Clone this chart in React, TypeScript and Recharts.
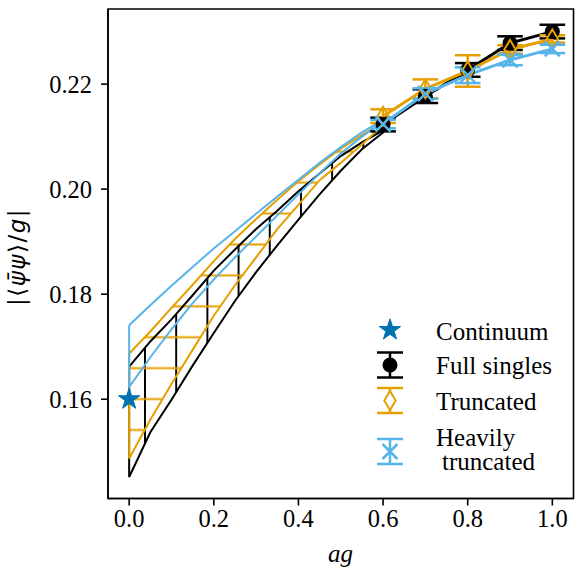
import React from 'react';
import { ComposedChart, Line, Area, XAxis, YAxis, ErrorBar, ReferenceArea } from 'recharts';

// ---- data ----
const bandX = [0, 0.05, 0.1, 0.15, 0.2, 0.25, 0.3, 0.35, 0.4, 0.45, 0.5, 0.55, 0.6];
const fullUpper = [0.1662, 0.1710, 0.1752, 0.1798, 0.1845, 0.1885, 0.1924, 0.1959, 0.1996, 0.2030, 0.2063, 0.2089, 0.2112];
const fullLower = [0.1452, 0.1537, 0.1599, 0.1664, 0.1726, 0.1787, 0.1842, 0.1893, 0.1942, 0.1990, 0.2035, 0.2076, 0.2108];
const truncUpper = [0.1687, 0.1729, 0.1774, 0.1818, 0.1863, 0.1905, 0.1943, 0.1980, 0.2015, 0.2047, 0.2077, 0.2103, 0.2127];
const truncLower = [0.1487, 0.1561, 0.1629, 0.1694, 0.1759, 0.1817, 0.1870, 0.1924, 0.1970, 0.2017, 0.2050, 0.2085, 0.2122];
const heavyUpper = [0.1741, 0.1779, 0.1816, 0.1852, 0.1887, 0.1920, 0.1953, 0.1986, 0.2018, 0.2050, 0.2080, 0.2108, 0.2132];
const heavyLower = [0.1623, 0.1680, 0.1733, 0.1783, 0.1828, 0.1870, 0.1910, 0.1950, 0.1990, 0.2030, 0.2068, 0.2100, 0.2128];

const pointX = [0.6, 0.7, 0.8, 0.9, 1.0];
const fullY = [0.2123, 0.2177, 0.2227, 0.2278, 0.2300];
const fullErr = [0.0013, 0.0013, 0.0013, 0.0013, 0.0013];
const truncY = [0.2139, 0.2191, 0.2225, 0.2266, 0.2286];
const truncErr = [0.0013, 0.0018, 0.0030, 0.0008, 0.0007];
const heavyY = [0.2124, 0.2182, 0.2217, 0.2246, 0.2267];
const heavyErr = [0.0008, 0.0010, 0.0015, 0.0010, 0.0008];

const continuumX = [0];
const continuumY = [0.16];

const xTicks = [0, 0.2, 0.4, 0.6, 0.8, 1.0];
const yTicks = [0.16, 0.18, 0.2, 0.22];
const xDomain = [-0.05, 1.05];
const yDomain = [0.1411, 0.2343];

const C_BLACK = '#000000';
const C_ORANGE = '#E69F00';
const C_SKY = '#56B4E9';
const C_BLUE = '#0072B2';
const SERIF = '"Liberation Serif", "Times New Roman", serif';

// ---- helpers ----
const bandRows = (upper: number[], lower: number[]) =>
  bandX.map((x, i) => ({ x, range: [lower[i], upper[i]] }));
const outlineRows = (upper: number[], lower: number[]) => {
  const rows = bandX.map((x, i) => ({ x, y: upper[i] }));
  for (let i = bandX.length - 1; i >= 0; i--) rows.push({ x: bandX[i], y: lower[i] });
  rows.push({ x: bandX[0], y: upper[0] });
  return rows;
};
const pointRows = (ys: number[], errs: number[]) => pointX.map((x, i) => ({ x, y: ys[i], err: errs[i] }));
const contRows = continuumX.map((x, i) => ({ x, y: continuumY[i] }));

const starPath = (cx: number, cy: number, R: number) => {
  const r = R * 0.382;
  let d = '';
  for (let k = 0; k < 10; k++) {
    const a = (-90 + k * 36) * Math.PI / 180;
    const rad = k % 2 === 0 ? R : r;
    d += (k === 0 ? 'M' : 'L') + (cx + rad * Math.cos(a)).toFixed(2) + ',' + (cy + rad * Math.sin(a)).toFixed(2);
  }
  return d + 'Z';
};

const CircleDot = (p: any) => (p.cx == null ? null : <circle key={`c${p.index}`} cx={p.cx} cy={p.cy} r={7.5} fill={C_BLACK} />);
const DiamondDot = (p: any) =>
  p.cx == null ? null : (
    <path key={`d${p.index}`} d={`M${p.cx},${p.cy - 9.5}L${p.cx + 5.7},${p.cy}L${p.cx},${p.cy + 9.5}L${p.cx - 5.7},${p.cy}Z`} fill="none" stroke={C_ORANGE} strokeWidth={2} />
  );
const XDot = (p: any) =>
  p.cx == null ? null : (
    <path key={`x${p.index}`} d={`M${p.cx - 7.5},${p.cy - 7.5}L${p.cx + 7.5},${p.cy + 7.5}M${p.cx - 7.5},${p.cy + 7.5}L${p.cx + 7.5},${p.cy - 7.5}`} stroke={C_SKY} strokeWidth={2.5} fill="none" />
  );
const StarDot = (p: any) => (p.cx == null ? null : <path key={`s${p.index}`} d={starPath(p.cx, p.cy, 11.2)} fill={C_BLUE} stroke={C_BLUE} strokeWidth={1} />);

const tickStyle = { fontFamily: SERIF, fontSize: 24.5, fill: '#000' };

const ErrLegend = ({ cy, color, children }: any) => (
  <g>
    <line x1={390} y1={cy - 12.5} x2={390} y2={cy + 12.5} stroke={color} strokeWidth={2.5} />
    <line x1={377} y1={cy - 12.5} x2={403} y2={cy - 12.5} stroke={color} strokeWidth={2.5} />
    <line x1={377} y1={cy + 12.5} x2={403} y2={cy + 12.5} stroke={color} strokeWidth={2.5} />
    {children}
  </g>
);

export default function App() {
  return (
    <div style={{ position: 'absolute', left: 0, top: 0, width: 577, height: 577, background: '#fff' }}>
      <ComposedChart width={577} height={577} margin={{ top: 9, right: 3.5, bottom: 0, left: 0 }}>
        <defs>
          <pattern id="hatchV" patternUnits="userSpaceOnUse" x={145 - 15.6} y={0} width={31.19} height={10}>
            <line x1={15.6} y1={-2} x2={15.6} y2={12} stroke={C_BLACK} strokeWidth={2} />
          </pattern>
          <pattern id="hatchH" patternUnits="userSpaceOnUse" x={0} y={430 - 15.46} width={10} height={30.92}>
            <line x1={-2} y1={15.46} x2={12} y2={15.46} stroke={C_ORANGE} strokeWidth={2} />
          </pattern>
        </defs>
        <XAxis
          dataKey="x"
          type="number"
          domain={xDomain}
          allowDataOverflow
          ticks={xTicks}
          tickFormatter={(v: number) => v.toFixed(1)}
          height={78.5}
          tickSize={7}
          tickMargin={4}
          tick={tickStyle}
          axisLine={{ stroke: '#000', strokeWidth: 1.6 }}
          tickLine={{ stroke: '#000', strokeWidth: 1.6 }}
        />
        <YAxis
          type="number"
          domain={yDomain}
          allowDataOverflow
          ticks={yTicks}
          tickFormatter={(v: number) => v.toFixed(2)}
          width={108}
          tickSize={7}
          tickMargin={9}
          tick={tickStyle}
          axisLine={{ stroke: '#000', strokeWidth: 1.6 }}
          tickLine={{ stroke: '#000', strokeWidth: 1.6 }}
        />
        <ReferenceArea x1={xDomain[0]} x2={xDomain[1]} y1={yDomain[0]} y2={yDomain[1]} fill="none" stroke="#000" strokeWidth={1.6} fillOpacity={0} ifOverflow="visible" />

        <Area data={bandRows(fullUpper, fullLower)} dataKey="range" type="linear" stroke="none" fill="url(#hatchV)" fillOpacity={1} isAnimationActive={false} activeDot={false} />
        <Line data={outlineRows(fullUpper, fullLower)} dataKey="y" type="linear" stroke={C_BLACK} strokeWidth={2} dot={false} activeDot={false} isAnimationActive={false} />

        <Area data={bandRows(truncUpper, truncLower)} dataKey="range" type="linear" stroke="none" fill="url(#hatchH)" fillOpacity={1} isAnimationActive={false} activeDot={false} />
        <Line data={outlineRows(truncUpper, truncLower)} dataKey="y" type="linear" stroke={C_ORANGE} strokeWidth={2} dot={false} activeDot={false} isAnimationActive={false} />

        <Line data={outlineRows(heavyUpper, heavyLower)} dataKey="y" type="linear" stroke={C_SKY} strokeWidth={2} dot={false} activeDot={false} isAnimationActive={false} />

        <Line data={pointRows(fullY, fullErr)} dataKey="y" type="linear" stroke={C_BLACK} strokeWidth={3} dot={CircleDot} activeDot={false} isAnimationActive={false}>
          <ErrorBar dataKey="err" direction="y" width={12.8} stroke={C_BLACK} strokeWidth={2.5} />
        </Line>
        <Line data={pointRows(truncY, truncErr)} dataKey="y" type="linear" stroke={C_ORANGE} strokeWidth={3} dot={DiamondDot} activeDot={false} isAnimationActive={false}>
          <ErrorBar dataKey="err" direction="y" width={12.8} stroke={C_ORANGE} strokeWidth={2.5} />
        </Line>
        <Line data={pointRows(heavyY, heavyErr)} dataKey="y" type="linear" stroke={C_SKY} strokeWidth={3} dot={XDot} activeDot={false} isAnimationActive={false}>
          <ErrorBar dataKey="err" direction="y" width={12.8} stroke={C_SKY} strokeWidth={2.5} />
        </Line>

        <Line data={contRows} dataKey="y" type="linear" stroke="none" dot={StarDot} activeDot={false} isAnimationActive={false} />
      </ComposedChart>

      <svg width={577} height={577} style={{ position: 'absolute', left: 0, top: 0, pointerEvents: 'none' }}>
        {/* legend */}
        <path d={starPath(390, 330, 11.2)} fill={C_BLUE} stroke={C_BLUE} strokeWidth={1} />
        <ErrLegend cy={365} color={C_BLACK}>
          <circle cx={390} cy={365} r={7.5} fill={C_BLACK} />
        </ErrLegend>
        <ErrLegend cy={400.5} color={C_ORANGE}>
          <path d="M390,391L395.7,400.5L390,410L384.3,400.5Z" fill="#fff" stroke={C_ORANGE} strokeWidth={2} />
        </ErrLegend>
        <ErrLegend cy={451.5} color={C_SKY}>
          <path d="M382.5,444L397.5,459M382.5,459L397.5,444" stroke={C_SKY} strokeWidth={2.5} />
        </ErrLegend>
        <g style={{ fontFamily: SERIF, fontSize: 25 }} fill="#000">
          <text x={436} y={340}>Continuum</text>
          <text x={436} y={374}>Full singles</text>
          <text x={436} y={410}>Truncated</text>
          <text x={436} y={445.5}>Heavily</text>
          <text x={442} y={470}>truncated</text>
        </g>
        {/* axis labels */}
        <text x={340.5} y={562} textAnchor="middle" style={{ fontFamily: SERIF, fontSize: 25, fontStyle: 'italic' }} fill="#000">ag</text>
        <text
          x={17}
          y={257}
          transform="rotate(-90 17 257)"
          textAnchor="middle"
          dominantBaseline="central"
          style={{ fontFamily: '"DejaVu Sans", sans-serif', fontSize: 23, letterSpacing: 1.5 }}
          fill="#000"
        >
          <tspan>|⟨</tspan>
          <tspan fontStyle="italic">ψ̄ψ</tspan>
          <tspan>⟩/</tspan>
          <tspan fontStyle="italic">g</tspan>
          <tspan>|</tspan>
        </text>
      </svg>
    </div>
  );
}
